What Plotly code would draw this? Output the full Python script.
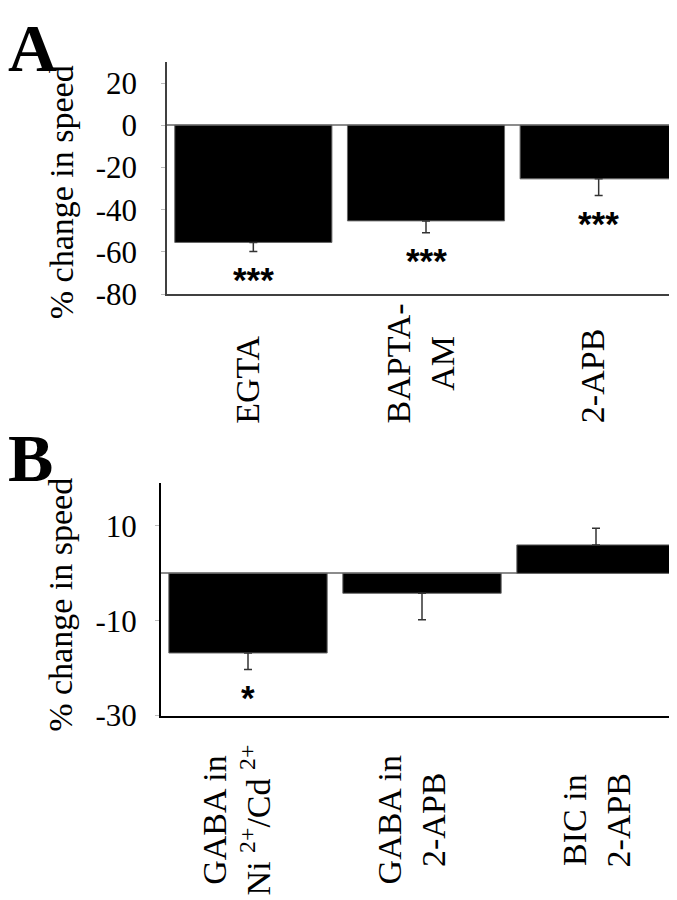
import plotly.graph_objects as go

# Panel A data
cats_a = ["EGTA", "BAPTA-AM", "2-APB"]
labels_a = ["EGTA", "BAPTA-<br>AM", "2-APB"]
vals_a = [-55.5, -45.3, -25.4]
errs_a = [4.3, 5.6, 7.9]
stars_a = ["***", "***", "***"]
ticks_a = [-80, -60, -40, -20, 0, 20]

# Panel B data
cats_b = ["GABA in Ni/Cd", "GABA in 2-APB", "BIC in 2-APB"]
labels_b = ["GABA in<br>Ni <sup>2+</sup>/Cd <sup>2+</sup>", "GABA in<br>2-APB", "BIC in<br>2-APB"]
vals_b = [-16.8, -4.2, 6.0]
errs_b = [3.5, 5.6, 3.5]
stars_b = ["*", "", ""]
ticks_b = [-30, -10, 10]

W, H = 677, 900
SERIF = "Liberation Serif"
SANS = "Liberation Sans"


def px_x(p):
    return p / W


def px_y(p):
    return 1 - p / H


def one_sided(vals, errs):
    # error bar only on the side away from zero
    plus = [e if v >= 0 else 0 for v, e in zip(vals, errs)]
    minus = [e if v < 0 else 0 for v, e in zip(vals, errs)]
    return plus, minus


fig = go.Figure()

for cats, vals, errs, xa, ya in [(cats_a, vals_a, errs_a, "x", "y"),
                                  (cats_b, vals_b, errs_b, "x2", "y2")]:
    plus, minus = one_sided(vals, errs)
    fig.add_trace(go.Bar(
        x=cats, y=vals, xaxis=xa, yaxis=ya, width=0.91,
        marker=dict(color="black", line=dict(color="#666666", width=1)),
        error_y=dict(type="data", symmetric=False, array=plus, arrayminus=minus,
                     color="#333333", thickness=1.5, width=4),
        showlegend=False,
    ))

annotations = []

# asterisks
for cats, vals, errs, stars, xa, ya in [(cats_a, vals_a, errs_a, stars_a, "x", "y"),
                                         (cats_b, vals_b, errs_b, stars_b, "x2", "y2")]:
    for c, v, e, s in zip(cats, vals, errs, stars):
        if not s:
            continue
        annotations.append(dict(
            x=c, y=v - e, xref=xa, yref=ya, text="<b>%s</b>" % s, showarrow=False,
            yanchor="top", yshift=-6,
            font=dict(family=SANS, size=35, color="black"),
        ))

# category labels (rotated)
for c, lab in zip(cats_a, labels_a):
    annotations.append(dict(
        x=c, y=px_y(426), xref="x", yref="paper", text=lab, showarrow=False,
        textangle=-90, yanchor="bottom", xanchor="center", align="center", xshift=-6,
        font=dict(family=SERIF, size=34, color="black"),
    ))
for c, lab, sh in zip(cats_b, labels_b, [-12, -11, 0]):
    annotations.append(dict(
        x=c, y=px_y(829), xref="x2", yref="paper", text=lab, showarrow=False,
        textangle=-90, yanchor="middle", xanchor="center", align="center", xshift=sh,
        font=dict(family=SERIF, size=34, color="black"),
    ))

# y titles
for yc in [188, 609]:
    annotations.append(dict(
        x=px_x(53), y=px_y(yc), xref="paper", yref="paper", text="% change in speed",
        showarrow=False, textangle=-90, xanchor="center", yanchor="middle",
        font=dict(family=SERIF, size=34, color="black"),
    ))

# panel letters
for lt, yt in [("A", 0), ("B", 418)]:
    annotations.append(dict(
        x=0, y=px_y(yt), xref="paper", yref="paper", text="<b>%s</b>" % lt,
        showarrow=False, xanchor="left", yanchor="top", xshift=-2,
        font=dict(family=SERIF, size=68, color="black"),
    ))

yaxis_common = dict(
    showgrid=False, zeroline=True, zerolinecolor="#8c8c8c", zerolinewidth=1.5,
    ticks="outside", ticklen=4, tickcolor="#bbbbbb", tickwidth=1,
    tickfont=dict(family=SERIF, size=31, color="black"),
    showline=True,
)

fig.update_layout(
    width=W, height=H,
    margin=dict(l=0, r=0, t=0, b=0),
    paper_bgcolor="white", plot_bgcolor="white",
    bargap=0.09,
    xaxis=dict(domain=[px_x(159), px_x(677)], anchor="y", showgrid=False,
               showticklabels=False, showline=True, linecolor="#404040", linewidth=1.5,
               range=[-0.5, 2.5], zeroline=False),
    yaxis=dict(domain=[px_y(292), px_y(55)], anchor="x", range=[-80, 30],
               tickvals=ticks_a, ticktext=[str(t) for t in ticks_a],
               linecolor="#404040", linewidth=1.5,
               ticklabelstandoff=18, **yaxis_common),
    xaxis2=dict(domain=[px_x(153), px_x(675)], anchor="y2", showgrid=False,
                showticklabels=False, showline=True, linecolor="black", linewidth=2,
                range=[-0.5, 2.5], zeroline=False),
    yaxis2=dict(domain=[px_y(722), px_y(485)], anchor="x2", range=[-30, 19],
                tickvals=ticks_b, ticktext=[str(t) for t in ticks_b],
                linecolor="black", linewidth=2,
                ticklabelstandoff=12, **yaxis_common),
    annotations=annotations,
)

fig.write_html("out.html")
